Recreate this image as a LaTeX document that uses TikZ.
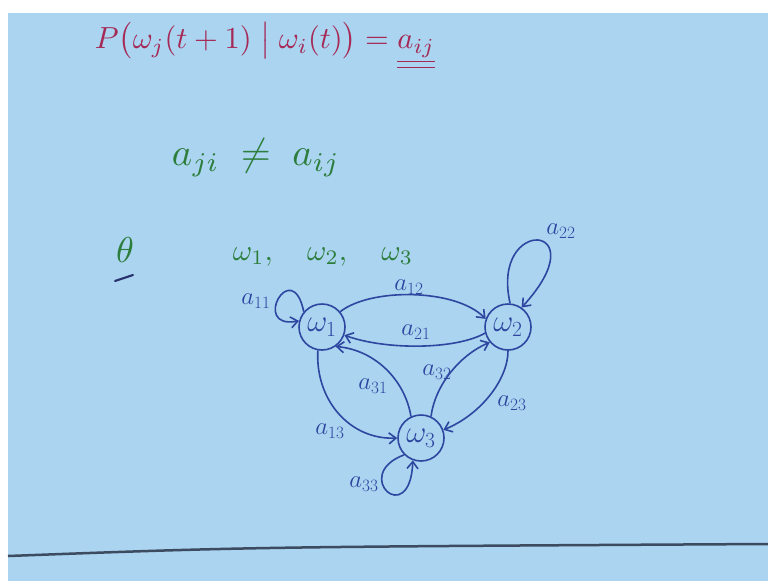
\documentclass[tikz,border=0pt]{standalone}
\usepackage{graphicx}
\usepackage{amsmath}
\usetikzlibrary{arrows.meta}
\definecolor{board}{RGB}{170,212,240}
\definecolor{redink}{RGB}{165,40,85}
\definecolor{greenink}{RGB}{45,125,60}
\definecolor{blueink}{RGB}{45,70,160}
\definecolor{navyink}{RGB}{40,50,110}
\definecolor{ruleink}{RGB}{60,75,95}
\begin{document}
\begin{tikzpicture}[x=1pt,y=-1pt,
  state/.style={circle,draw=blueink,line width=1.6pt,minimum size=46pt,inner sep=0pt,text=blueink,font=\fontsize{24}{28}\selectfont},
  edge/.style={draw=blueink,line width=1.6pt,-{Straight Barb[length=7pt,width=11pt]}},
  lbl/.style={text=blueink,font=\fontsize{24}{28}\selectfont,inner sep=0pt}]
\useasboundingbox (0,0) rectangle (768,581);
\fill[white] (0,0) rectangle (768,581);
\fill[board] (8,13) rectangle (768,581);
% header texts
\node[text=redink,inner sep=0pt] (eq) at (265,46) {\resizebox{340pt}{!}{$P\bigl(\omega_j(t+1)\bigm|\omega_i(t)\bigr) = \underline{\underline{a_{ij}}}$}};
\node[text=greenink,inner sep=0pt] (neq) at (256,158) {\resizebox{168pt}{!}{$a_{ji} \;\neq\; a_{ij}$}};
\node[text=greenink,inner sep=0pt] (theta) at (125,250) {\resizebox{!}{25pt}{$\theta$}};
\draw[navyink,line width=2.2pt,line cap=round] (115,281) -- (133,275);
\node[text=greenink,inner sep=0pt] (omegas) at (323,257) {\resizebox{180pt}{!}{$\omega_1,\quad \omega_2,\quad \omega_3$}};
% states
\node[state] (w1) at (322,327) {\scalebox{1.25}{$\omega_1$}};
\node[state] (w2) at (508,327) {\scalebox{1.25}{$\omega_2$}};
\node[state] (w3) at (421,438) {\scalebox{1.25}{$\omega_3$}};
% edges
\draw[edge] (w1.40) .. controls (370,288) and (455,288) .. (w2.160);
\draw[edge] (w2.195) .. controls (455,350) and (385,350) .. (w1.340);
\draw[edge] (w3.115) .. controls (405,380) and (375,350) .. (w1.305);
\draw[edge] (w3.65) .. controls (435,385) and (460,355) .. (w2.220);
\draw[edge] (w2.270) .. controls (508,380) and (480,415) .. (w3.20);
\draw[edge] (w1.260) .. controls (315,400) and (350,440) .. (w3.180);
% self loops
\draw[edge] (w1.140) .. controls (292,255) and (250,330) .. (w1.165);
\draw[edge] (w2.85) .. controls (490,215) and (600,222) .. (w2.55);
\draw[edge] (w3.225) .. controls (350,475) and (410,530) .. (w3.250);
% labels
\node[lbl] (l11) at (256,301) {$a_{11}$};
\node[lbl] (l12) at (409,287) {$a_{12}$};
\node[lbl] (l21) at (416,332) {$a_{21}$};
\node[lbl] (l22) at (561,231) {$a_{22}$};
\node[lbl] (l31) at (373,386) {$a_{31}$};
\node[lbl] (l32) at (437,372) {$a_{32}$};
\node[lbl] (l23) at (512,403) {$a_{23}$};
\node[lbl] (l13) at (330,431) {$a_{13}$};
\node[lbl] (l33) at (364,484) {$a_{33}$};
% board edge
\draw[ruleink,line width=2.5pt] (8,556) .. controls (250,547) .. (768,544);
\end{tikzpicture}
\end{document}
